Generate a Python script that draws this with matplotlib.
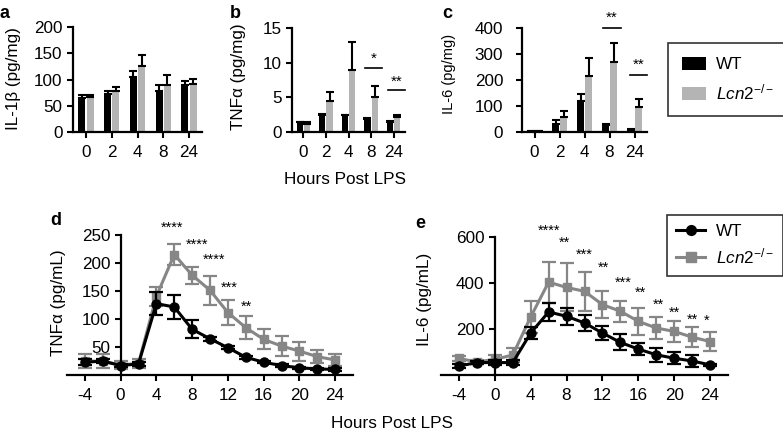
import matplotlib
matplotlib.use("Agg")
import matplotlib.pyplot as plt
import numpy as np
from matplotlib.patches import Patch
from matplotlib.lines import Line2D

plt.rcParams['font.family'] = ['Liberation Sans', 'DejaVu Sans']
plt.rcParams['mathtext.fontset'] = 'custom'
plt.rcParams['mathtext.rm'] = 'Liberation Sans'
plt.rcParams['mathtext.it'] = 'Liberation Sans:italic'
plt.rcParams['axes.unicode_minus'] = False

# ---------------- data ----------------
hours_bar = ['0', '2', '4', '8', '24']
il1b_wt = [64, 73, 104, 78, 89]
il1b_wt_err = [6, 6, 12, 12, 9]
il1b_ko = [67, 78, 125, 89, 92]
il1b_ko_err = [3, 8, 21, 19, 9]

tnf_wt = [1.4, 2.4, 2.4, 1.9, 1.5]
tnf_wt_err = [0.1, 0.2, 0.1, 0.1, 0.1]
tnf_ko = [1.1, 4.5, 9.0, 5.1, 2.1]
tnf_ko_err = [0.3, 1.3, 4.0, 1.5, 0.3]

il6_wt = [3, 32, 120, 28, 8]
il6_wt_err = [2, 13, 25, 3, 3]
il6_ko = [2, 58, 215, 271, 97]
il6_ko_err = [1, 23, 71, 73, 29]

hours_line = [-4, -2, 0, 2, 4, 6, 8, 10, 12, 14, 16, 18, 20, 22, 24]
tnf_line_wt = [22, 24, 16, 19, 127, 121, 81, 64, 48, 31, 22, 16, 12, 10, 9]
tnf_line_wt_err = [5, 4, 3, 3, 20, 22, 16, 4, 3, 3, 2, 2, 2, 2, 2]
tnf_line_ko = [24, 24, 17, 20, 140, 215, 178, 151, 111, 84, 63, 51, 42, 32, 26]
tnf_line_ko_err = [13, 12, 7, 8, 17, 18, 15, 26, 22, 21, 18, 18, 17, 12, 11]

il6_line_wt = [37, 52, 52, 52, 181, 273, 254, 225, 181, 140, 111, 86, 71, 59, 42]
il6_line_wt_err = [8, 8, 10, 10, 26, 40, 37, 35, 30, 35, 28, 30, 26, 25, 6]
il6_line_ko = [70, 55, 66, 85, 251, 403, 380, 363, 305, 276, 232, 203, 188, 163, 144]
il6_line_ko_err = [12, 10, 20, 30, 70, 90, 105, 86, 60, 45, 60, 50, 45, 44, 42]

tnf_stars = [(5.7, 263, '****'), (8.5, 232, '****'), (10.5, 205, '****'),
             (12.2, 155, '***'), (14.1, 121, '**')]
il6_stars = [(6.0, 625, '****'), (7.8, 576, '**'), (9.95, 521, '***'),
             (12.07, 464, '**'), (14.3, 402, '***'), (16.2, 358, '**'),
             (18.2, 306, '**'), (20.0, 270, '**'), (22.0, 240, '**'), (23.6, 235, '*')]

BLACK = '#000000'
BARGRAY = '#b4b4b4'
LINEGRAY = '#868686'

W, H = 783, 432
fig = plt.figure(figsize=(W / 100, H / 100), dpi=100)
FS = 12.3


def add_ax(left, right, top, bottom):
    return fig.add_axes([left / W, 1 - bottom / H, (right - left) / W, (bottom - top) / H])


def fx(x):
    return x / W


def fy(y):
    return 1 - y / H


def style(ax):
    for s in ['top', 'right']:
        ax.spines[s].set_visible(False)
    for s in ['left', 'bottom']:
        ax.spines[s].set_linewidth(1.6)
    ax.tick_params(width=1.5, length=4.5, labelsize=FS, pad=3)


# ---------------- bar panels ----------------
def bar_panel(ax, wt, wte, ko, koe, ymax, yticks):
    x = np.arange(len(hours_bar))
    w = 0.27
    off = 0.16
    ax.bar(x - off, wt, w, color=BLACK, zorder=2)
    ax.bar(x + off, ko, w, color=BARGRAY, zorder=2)
    ekw = dict(fmt='none', ecolor='black', elinewidth=1.5, capsize=3, capthick=1.5, zorder=3)
    ax.errorbar(x - off, wt, yerr=[np.zeros(len(wt)), wte], **ekw)
    ax.errorbar(x + off, ko, yerr=[np.zeros(len(ko)), koe], **ekw)
    ax.set_xlim(-0.5, 4.5)
    ax.set_ylim(0, ymax)
    ax.set_yticks(yticks)
    ax.set_xticks(x)
    ax.set_xticklabels(hours_bar)
    style(ax)
    ax.tick_params(axis='x', pad=5)


axa = add_ax(73, 202, 27, 132)
bar_panel(axa, il1b_wt, il1b_wt_err, il1b_ko, il1b_ko_err, 200, [0, 50, 100, 150, 200])
axb = add_ax(292, 405, 28, 132)
bar_panel(axb, tnf_wt, tnf_wt_err, tnf_ko, tnf_ko_err, 15, [0, 5, 10, 15])
axc = add_ax(522, 647, 28, 132)
bar_panel(axc, il6_wt, il6_wt_err, il6_ko, il6_ko_err, 400, [0, 100, 200, 300, 400])
axc.tick_params(axis='y', pad=9)

fig.text(fx(14), fy(79), 'IL-1β (pg/mg)', rotation=90, ha='center', va='center', fontsize=FS)
fig.text(fx(238), fy(77), 'TNFα (pg/mg)', rotation=90, ha='center', va='center', fontsize=FS)
fig.text(fx(449), fy(74), 'IL-6 (pg/mg)', rotation=90, ha='center', va='center', fontsize=10.5)


def sig(ax, x0, x1, y, ys, txt):
    ax.plot([x0, x1], [y, y], color='black', lw=1.2, clip_on=False)
    ax.text((x0 + x1) / 2, ys, txt, ha='center', va='center', fontsize=11, clip_on=False)


sig(axb, 2.75, 3.5, 9.2, 10.6, '*')
sig(axb, 3.75, 4.5, 6.0, 7.3, '**')
sig(axc, 2.75, 3.45, 400, 440, '**')
sig(axc, 3.8, 4.5, 219, 258, '**')

fig.text(fx(345), fy(184), 'Hours Post LPS', ha='center', va='baseline', fontsize=FS)

leg1 = fig.legend(handles=[Patch(facecolor=BLACK, label='WT'),
                           Patch(facecolor=BARGRAY, label=r'$\mathit{Lcn2}^{-/-}$')],
                  loc='upper left', bbox_to_anchor=(fx(668), fy(43)), frameon=True,
                  fancybox=False, edgecolor='black', fontsize=FS, handlelength=1.4,
                  handleheight=0.85, borderpad=0.8, labelspacing=0.6, handletextpad=0.6,
                  borderaxespad=0)
leg1.get_frame().set_linewidth(1.2)


# ---------------- line panels ----------------
def line_panel(ax, wt, wte, ko, koe, ymax, yticks, stars):
    ax.errorbar(hours_line, ko, yerr=koe, color=LINEGRAY, marker='s', ms=6, lw=2.2,
                elinewidth=1.6, capsize=5, capthick=1.6, zorder=2, clip_on=False)
    ax.errorbar(hours_line, wt, yerr=wte, color=BLACK, marker='o', ms=6.5, lw=2.2,
                elinewidth=1.6, capsize=5, capthick=1.6, zorder=3, clip_on=False)
    ax.set_xlim(-6, 26)
    ax.set_ylim(0, ymax)
    ax.set_xticks([-4, 0, 4, 8, 12, 16, 20, 24])
    ax.set_yticks(yticks)
    ax.spines['left'].set_position(('data', 0))
    ax.spines['left'].set_bounds(0, ymax)
    style(ax)
    ax.tick_params(axis='x', pad=5)
    for xs, ys, t in stars:
        ax.text(xs, ys, t, ha='center', va='center', fontsize=10.5, clip_on=False)


axd = add_ax(67, 353, 235, 374.5)
line_panel(axd, tnf_line_wt, tnf_line_wt_err, tnf_line_ko, tnf_line_ko_err, 250,
           [50, 100, 150, 200, 250], tnf_stars)
axe = add_ax(441, 728, 237, 374.5)
line_panel(axe, il6_line_wt, il6_line_wt_err, il6_line_ko, il6_line_ko_err, 600,
           [200, 400, 600], il6_stars)

fig.text(fx(59), fy(303), 'TNFα (pg/mL)', rotation=90, ha='center', va='center', fontsize=FS)
fig.text(fx(425), fy(299), 'IL-6 (pg/mL)', rotation=90, ha='center', va='center', fontsize=FS)

fig.text(fx(392), fy(428), 'Hours Post LPS', ha='center', va='baseline', fontsize=FS)

leg2 = fig.legend(handles=[Line2D([], [], color=BLACK, marker='o', ms=7, lw=2.2, label='WT'),
                           Line2D([], [], color=LINEGRAY, marker='s', ms=6.5, lw=2.2,
                                  label=r'$\mathit{Lcn2}^{-/-}$')],
                  loc='upper left', bbox_to_anchor=(fx(667), fy(215)), frameon=True,
                  fancybox=False, edgecolor='black', fontsize=FS, handlelength=1.7,
                  borderpad=0.55, labelspacing=0.4, handletextpad=0.6, borderaxespad=0)
leg2.get_frame().set_linewidth(1.2)

for xp, yp, t in [(0, 14, 'a'), (230, 14, 'b'), (442, 13, 'c'), (50, 220, 'd'), (415, 223, 'e')]:
    fig.text(fx(xp), fy(yp), t, fontsize=13, fontweight='bold', ha='left', va='center')

fig.savefig('out.png', dpi=100)
